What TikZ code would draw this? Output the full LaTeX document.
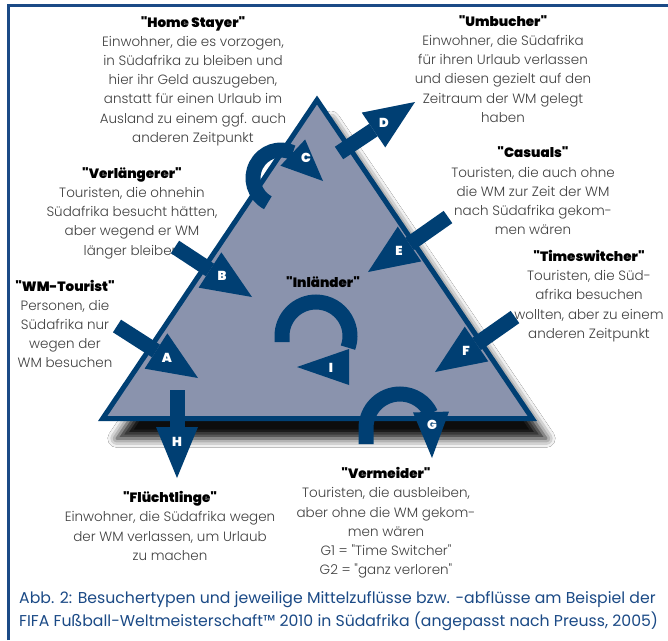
\documentclass[tikz,border=0pt]{standalone}
\usepackage{fontspec}
\setmainfont{Poppins Light}[BoldFont={Poppins Black}, Ligatures=TeXOff]
\newfontfamily\capfont{Poppins}[Ligatures=TeXOff]
\usetikzlibrary{calc,shadows.blur}
\definecolor{navy}{HTML}{003F73}
\definecolor{trifill}{HTML}{8A93AD}
\definecolor{bodygray}{HTML}{404040}
\definecolor{capblue}{HTML}{1B4A86}
\newcommand\headtri[3]{\fill[navy] ($#1!#3!90:#2$) -- #2 -- ($#1!#3!-90:#2$) -- cycle;}
\begin{document}
\begin{tikzpicture}[x=1pt,y=-1pt,
  block/.style={align=center, inner sep=0pt, text=bodygray, font=\fontsize{13.5}{19.2}\selectfont},
  ttl/.style={inner sep=0pt, text=black, font=\bfseries\fontsize{13.5}{15}\selectfont},
  shaft/.style={draw=navy, line width=15pt},
  letter/.style={inner sep=0pt, text=white, font=\bfseries\fontsize{13}{13}\selectfont},
  caption/.style={align=left, inner sep=0pt, text=capblue, anchor=west, font=\capfont\fontsize{15.7}{23}\selectfont}]
\useasboundingbox (0,0) rectangle (668,640);
\fill[white] (0,0) rectangle (668,640);
% frame
\draw[capblue, line width=3pt] (8,640) -- (8,5) -- (668,5);
% triangle
\path[fill=trifill, draw=navy, line width=5pt, line join=miter,
  blur shadow={shadow xshift=14pt, shadow yshift=-20pt, shadow blur radius=9pt, shadow opacity=95}]
  (317,100) -- (532.3,418.5) -- (102.7,418.5) -- cycle;
% texts
\node[block] (homestayer) at (193,81) {\textcolor{black}{\bfseries "Home Stayer"}\\Einwohner, die es vorzogen,\\in Südafrika zu bleiben und\\hier ihr Geld auszugeben,\\anstatt für einen Urlaub im\\Ausland zu einem ggf. auch\\anderen Zeitpunkt};
\node[block] (umbucher) at (503,69) {\textcolor{black}{\bfseries "Umbucher"}\\Einwohner, die Südafrika\\für ihren Urlaub verlassen\\und diesen gezielt auf den\\Zeitraum der WM gelegt\\haben};
\node[block] (verlaengerer) at (132,213) {\textcolor{black}{\bfseries "Verlängerer"}\\Touristen, die ohnehin\\Südafrika besucht hätten,\\aber wegend er WM\\länger bleiben};
\node[block] (casuals) at (533,191) {\textcolor{black}{\bfseries "Casuals"}\\Touristen, die auch ohne\\die WM zur Zeit der WM\\nach Südafrika gekom-\\men wären};
\node[block] (timeswitcher) at (589,296) {\textcolor{black}{\bfseries "Timeswitcher"}\\Touristen, die Süd-\\afrika besuchen\\wollten, aber zu einem\\anderen Zeitpunkt};
\node[block] (wmtourist) at (65,324) {\textcolor{black}{\bfseries "WM-Tourist"}\\Personen, die\\Südafrika nur\\wegen der\\WM besuchen};
\node[ttl] (inlaender) at (323,282) {"Inländer"};
\node[block] (fluechtlinge) at (170,526) {\textcolor{black}{\bfseries "Flüchtlinge"}\\Einwohner, die Südafrika wegen\\der WM verlassen, um Urlaub\\zu machen};
\node[block] (vermeider) at (386,523) {\textcolor{black}{\bfseries "Vermeider"}\\Touristen, die ausbleiben,\\aber ohne die WM gekom-\\men wären\\G1 = "Time Switcher"\\G2 = "ganz verloren"};
\node[caption] (caption) at (19,611) {Abb. 2: Besuchertypen und jeweilige Mittelzuflüsse bzw. -abflüsse am Beispiel der\\FIFA Fußball-Weltmeisterschaft™ 2010 in Südafrika (angepasst nach Preuss, 2005)};
% arrow coordinates
\coordinate (aS) at (117,326); \coordinate (aB) at (156,351); \coordinate (aT) at (198,378);
\coordinate (bS) at (175,247); \coordinate (bB) at (210,270); \coordinate (bT) at (252,297);
\coordinate (dS) at (339,153); \coordinate (dB) at (373.5,130); \coordinate (dT) at (415,102);
\coordinate (eS) at (448,217); \coordinate (eB) at (409.5,244); \coordinate (eT) at (368,272);
\coordinate (fS) at (515,317); \coordinate (fB) at (476.5,344); \coordinate (fT) at (435,372);
\coordinate (hS) at (177,390); \coordinate (hB) at (177,427); \coordinate (hT) at (177,478);
\coordinate (cC) at (281,178); \coordinate (cB) at (292.8,152.6); \coordinate (cT) at (323,181);
\coordinate (gS) at (366,444); \coordinate (gB) at (431,412); \coordinate (gT) at (432,458);
\coordinate (iS) at (282,342); \coordinate (iB) at (349,367); \coordinate (iT) at (297,367);
% straight arrows
\foreach \n in {a,b,d,e,f,h}{
  \draw[shaft] (\n S) -- (\n B);
  \headtri{(\n B)}{(\n T)}{21pt}
}
% curved arrows
\draw[shaft] (cC) ++(118:28) arc[start angle=118, end angle=295, radius=28];
\headtri{(cB)}{(cT)}{18pt}
\draw[shaft] (gS) -- (366,428) arc[start angle=180, end angle=335, radius=34];
\headtri{(gB)}{(gT)}{18pt}
\draw[shaft] (iS) -- (282,336) arc[start angle=180, end angle=380, radius=34];
\headtri{(iB)}{(iT)}{18pt}
% letters
\node[letter] (la) at (167,358) {A};
\node[letter] (lb) at (222,276) {B};
\node[letter] (lc) at (306,158) {C};
\node[letter] (ld) at (384,123) {D};
\node[letter] (le) at (399,251) {E};
\node[letter] (lf) at (466,351) {F};
\node[letter] (lg) at (432,425) {G};
\node[letter] (lh) at (177,442) {H};
\node[letter] (li) at (331,368) {I};
\end{tikzpicture}
\end{document}
